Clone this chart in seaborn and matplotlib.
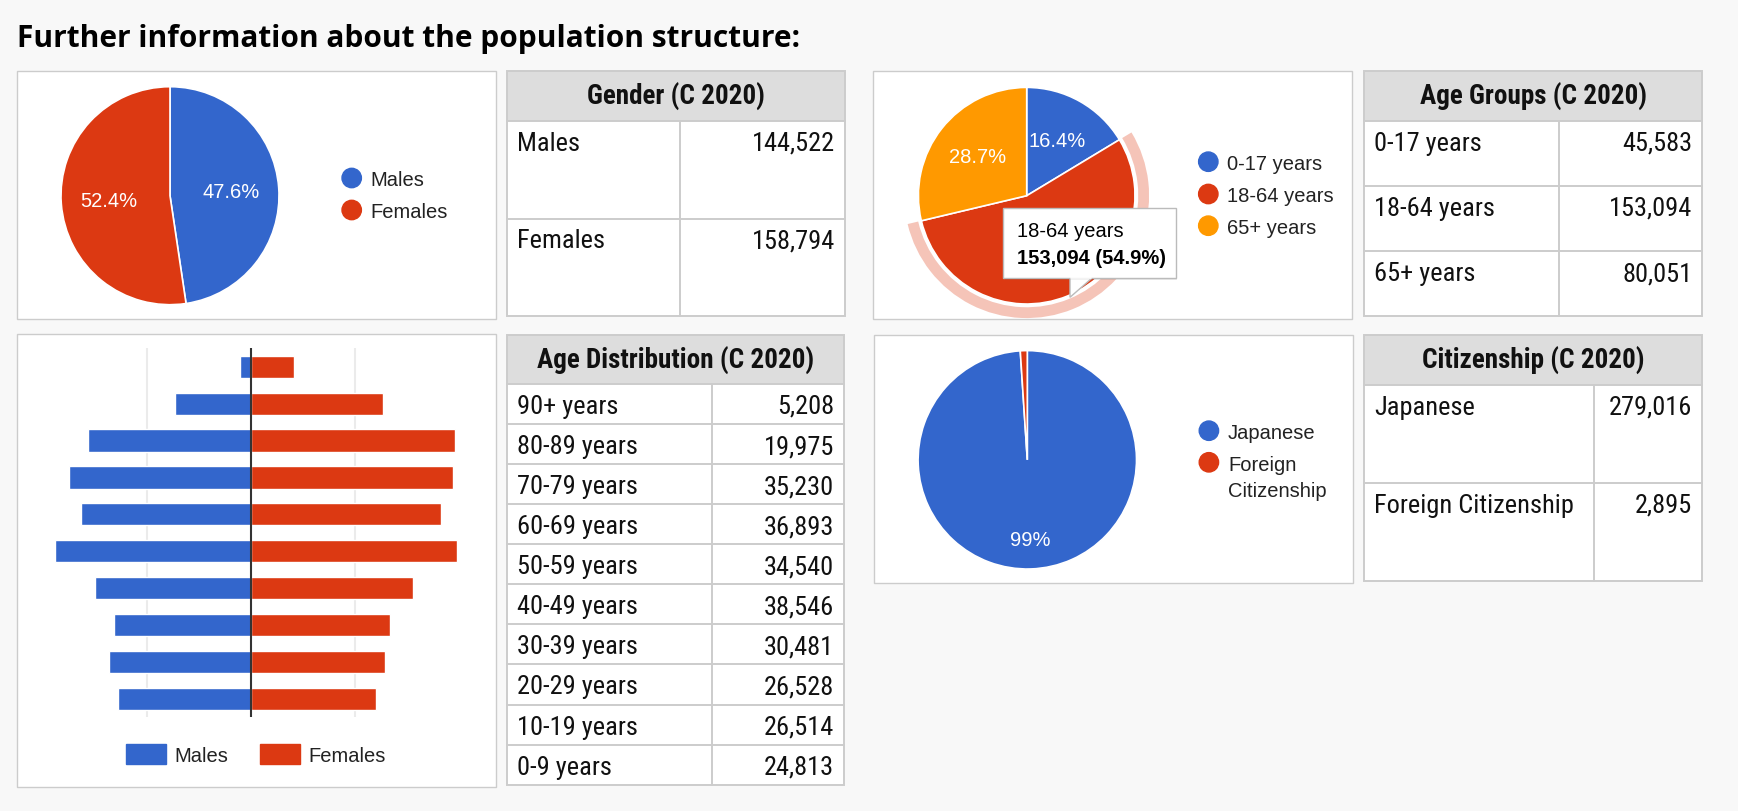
import numpy as np
import pandas as pd
import matplotlib
matplotlib.use('Agg')
import matplotlib.pyplot as plt
from matplotlib.patches import Rectangle, Circle, Wedge, Polygon
from matplotlib import font_manager
import seaborn as sns

# values
gender_labels = ['Males', 'Females']
gender_values = [144522, 158794]

age_group_labels = ['0-17 years', '18-64 years', '65+ years']
age_group_values = [45583, 153094, 80051]

age_dist_labels = ['90+ years', '80-89 years', '70-79 years', '60-69 years', '50-59 years',
                   '40-49 years', '30-39 years', '20-29 years', '10-19 years', '0-9 years']
age_dist_values = [5208, 19975, 35230, 36893, 34540, 38546, 30481, 26528, 26514, 24813]

# pyramid bar lengths
pyramid_males = [1070, 7310, 15640, 17440, 16260, 18750, 14920, 13130, 13620, 12770]
pyramid_females = [4140, 12660, 19590, 19450, 18280, 19790, 15570, 13390, 12900, 12050]

citizenship_labels = ['Japanese', 'Foreign Citizenship']
citizenship_values = [279016, 2895]

BLUE, RED, ORANGE = '#3366cc', '#dc3912', '#ff9900'
PAGE = '#f8f8f8'
LINE = '#cccccc'
W, H = 1738, 812
FS = 14.5        # chart text
TFS = 19         # table text

sns.set_theme(style='white')
installed = {f.name for f in font_manager.fontManager.ttflist}
NARROW = 'Roboto'
for name in ['Roboto Condensed', 'Liberation Sans Narrow']:
    if name in installed:
        NARROW = name
        break
ARIAL = 'Liberation Sans'
plt.rcParams['font.family'] = [ARIAL, 'DejaVu Sans']

fig = plt.figure(figsize=(W / 100, H / 100), dpi=100, facecolor=PAGE)


def px_axes(x0, y0, x1, y1):
    return fig.add_axes([x0 / W, 1 - y1 / H, (x1 - x0) / W, (y1 - y0) / H])


bg = px_axes(0, 0, W, H)
bg.set_xlim(0, W)
bg.set_ylim(H, 0)
bg.axis('off')
bg.set_zorder(0)

fg = px_axes(0, 0, W, H)
fg.set_xlim(0, W)
fg.set_ylim(H, 0)
fg.axis('off')
fg.set_zorder(5)

bg.text(17, 47, 'Further information about the population structure:', fontsize=21.5,
        fontweight='bold', family='Open Sans', color='#000000', va='baseline')


def panel(x0, y0, x1, y1):
    bg.add_patch(Rectangle((x0, y0), x1 - x0, y1 - y0, fc='white', ec=LINE, lw=1.0))


def draw_table(x0, x1, xc, y0, head_h, row_h, title, labels, values):
    n = len(labels)
    y1 = y0 + head_h + n * row_h
    bg.add_patch(Rectangle((x0, y0), x1 - x0, y1 - y0, fc='white', ec='none'))
    bg.add_patch(Rectangle((x0, y0), x1 - x0, head_h, fc='#dddddd', ec='none'))
    bg.text((x0 + x1) / 2, y0 + 33, title, ha='center', va='baseline', fontsize=TFS + 0.5,
            fontweight='bold', family=NARROW, color='#111111')
    for i, (lab, val) in enumerate(zip(labels, values)):
        top = y0 + head_h + i * row_h
        bg.text(x0 + 10, top + 29, lab, va='baseline', fontsize=TFS, family=NARROW, color='#111111')
        bg.text(x1 - 10, top + 29, f'{val:,}', ha='right', va='baseline', fontsize=TFS,
                family=NARROW, color='#111111')
        bg.plot([x0, x1], [top, top], color=LINE, lw=1.4)
    bg.plot([xc, xc], [y0 + head_h, y1], color=LINE, lw=1.4)
    bg.add_patch(Rectangle((x0, y0), x1 - x0, y1 - y0, fc='none', ec=LINE, lw=1.4))


def pie_axes(cx, cy, r, pad=1.0):
    ax = px_axes(cx - r * pad, cy - r * pad, cx + r * pad, cy + r * pad)
    ax.set_zorder(2)
    return ax


def legend_dots(x, ys, labels, colors, wrap=False):
    for y, lab, col in zip(ys, labels, colors):
        bg.add_patch(Circle((x, y), 9.7, color=col))
        lines = lab.split(' ') if wrap else [lab]
        for j, line in enumerate(lines):
            bg.text(x + 19, y + j * 26, line, va='center_baseline', fontsize=FS, color='#222222')


# panels
panel(16.7, 71.7, 495.7, 320)
panel(16.7, 335, 495.7, 788.3)
panel(873.3, 71.7, 1352.3, 320)
panel(873.9, 335.7, 1352.8, 584)

# gender pie
ax = pie_axes(170, 196.7, 109)
ax.pie(gender_values, colors=[BLUE, RED], startangle=90, counterclock=False,
       autopct=lambda p: f'{p:.1f}%', pctdistance=0.56,
       textprops=dict(color='white', fontsize=FS),
       wedgeprops=dict(edgecolor='white', linewidth=1.2))
ax.set_xlim(-1, 1)
ax.set_ylim(-1, 1)
legend_dots(351.7, [179, 211], gender_labels, [BLUE, RED])

# age group pie with highlighted slice
pad = 1.2
ax = pie_axes(1026.7, 196.7, 108.3, pad)
age_colors = [BLUE, RED, ORANGE]
_, _, age_pct = ax.pie(age_group_values, colors=age_colors, startangle=90, counterclock=False,
                       autopct=lambda p: f'{p:.1f}%', pctdistance=0.58,
                       textprops=dict(color='white', fontsize=FS),
                       wedgeprops=dict(edgecolor='white', linewidth=1.2))
# the hovered slice's label sits under the tooltip
age_pct[1].set_visible(False)
frac = np.cumsum([0] + age_group_values) / sum(age_group_values)
t_start = 90 - 360 * frac[2]
t_end = 90 - 360 * frac[1]
ax.add_patch(Wedge((0, 0), 1.13, t_start, t_end, width=0.10, fc='#f5c4b8', ec='none'))
ax.set_xlim(-pad, pad)
ax.set_ylim(-pad, pad)
legend_dots(1208.3, [162.7, 195, 226.7], age_group_labels, age_colors)

# tooltip for 18-64 slice
share = 100 * age_group_values[1] / sum(age_group_values)
fg.add_patch(Rectangle((1005, 211), 172.4, 70, fc='#000000', alpha=0.08, ec='none'))
fg.add_patch(Polygon([(1070, 279.3), (1091.7, 279.3), (1070, 298.3)], closed=True,
                     fc='white', ec='#bbbbbb', lw=1.0))
fg.add_patch(Rectangle((1003.3, 209.3), 172.4, 70, fc='white', ec='#bbbbbb', lw=1.0))
fg.plot([1070.6, 1091.2], [279.3, 279.3], color='white', lw=1.2)
fg.text(1016.7, 237, age_group_labels[1], fontsize=FS, color='#000000', va='baseline')
fg.text(1016.7, 264, f'{age_group_values[1]:,} ({share:.1f}%)', fontsize=FS,
        fontweight='bold', color='#000000', va='baseline')

# citizenship pie
ax = pie_axes(1027.3, 460.8, 109.2)
ax.pie(citizenship_values, colors=[BLUE, RED], startangle=90, counterclock=False,
       autopct=lambda p: f'{p:.0f}%' if p > 5 else '', pctdistance=0.73,
       textprops=dict(color='white', fontsize=FS),
       wedgeprops=dict(edgecolor='white', linewidth=1.2))
ax.set_xlim(-1, 1)
ax.set_ylim(-1, 1)
legend_dots(1208.9, [431.7, 463.3], citizenship_labels, [BLUE, RED], wrap=True)

# population pyramid
pyr = pd.DataFrame({
    'age': age_dist_labels * 2,
    'value': [-v for v in pyramid_males] + pyramid_females,
    'sex': ['Males'] * len(pyramid_males) + ['Females'] * len(pyramid_females),
})
ax = px_axes(42.4, 349.3, 459.0, 718.3)
ax.set_zorder(2)
sns.barplot(data=pyr, y='age', x='value', hue='sex', order=age_dist_labels,
            palette={'Males': BLUE, 'Females': RED}, orient='h', dodge=False,
            width=0.6, legend=False, ax=ax, saturation=1)
ax.set_xlim(-20000, 20000)
ax.set_ylim(len(age_dist_labels) - 0.5, -0.5)
ax.set_xticks([-10000, 10000])
ax.grid(axis='x', color='#ebebeb', lw=1.5)
ax.set_axisbelow(True)
ax.axvline(0, color='#333333', lw=1.5)
ax.set_xticklabels([])
ax.set_yticks([])
ax.tick_params(length=0)
ax.set_xlabel('')
ax.set_ylabel('')
ax.set_facecolor('none')
for s in ax.spines.values():
    s.set_visible(False)

bg.add_patch(Rectangle((126, 745), 40, 20, color=BLUE))
bg.text(174, 755, 'Males', va='center_baseline', fontsize=FS, color='#222222')
bg.add_patch(Rectangle((260, 745), 40, 20, color=RED))
bg.text(308.7, 755, 'Females', va='center_baseline', fontsize=FS, color='#222222')

# tables
draw_table(506.7, 845, 680, 71.7, 50, 97.8, 'Gender (C 2020)', gender_labels, gender_values)
draw_table(1364, 1702.3, 1559, 71.7, 50, 65.2, 'Age Groups (C 2020)', age_group_labels, age_group_values)
draw_table(506.7, 844.3, 712.3, 336, 49, 40.07, 'Age Distribution (C 2020)', age_dist_labels, age_dist_values)
draw_table(1363.9, 1702.2, 1594.3, 335.7, 50, 98, 'Citizenship (C 2020)', citizenship_labels, citizenship_values)

fig.savefig('out.png', dpi=100, facecolor=PAGE)
